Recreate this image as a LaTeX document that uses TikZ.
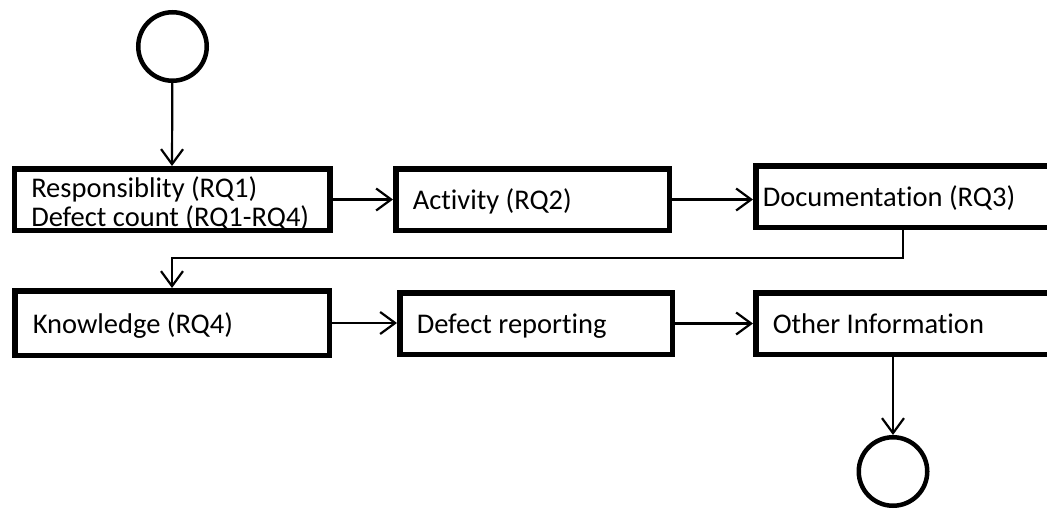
\documentclass[tikz,border=0pt]{standalone}
\usepackage{fontspec}
\setmainfont{Carlito}[Ligatures={NoCommon,NoRequired}]
\usetikzlibrary{arrows.meta}
\begin{document}
\begin{tikzpicture}[x=1pt,y=-1pt,
  stepbox/.style={draw, line width=5.5pt, rectangle, inner ysep=0pt,
    align=flush left, font=\fontsize{28.5}{29}\selectfont,
    text height=21pt, text depth=1pt},
  terminal/.style={draw, circle, line width=4.5pt, minimum size=68.5pt, inner sep=0pt},
  flow/.style={line width=2.2pt, -{Straight Barb[length=15pt,width=22pt]}}]
\useasboundingbox (0,0) rectangle (1047,511);
\clip (0,0) rectangle (1047,511);

% start and end markers
\node[terminal] (start) at (172.5,46.5) {};
\node[terminal] (end) at (893,471.5) {};

% first row of activities
\node[stepbox, minimum height=61.5pt, inner xsep=17pt, text width=281.5pt,
      text height=20pt, text depth=25pt] (b1) at (172,199.5)
  {Responsiblity (RQ1)\\Defect count (RQ1-RQ4)};
\node[stepbox, minimum height=61.5pt, inner xsep=17pt, text width=239.5pt] (b2) at (532.5,199.5)
  {Activity (RQ2)};
\node[stepbox, minimum height=61.5pt, inner xsep=7pt, text width=307.5pt] (b3) at (916.5,196.5)
  {Documentation (RQ3)};

% second row of activities
\node[stepbox, minimum height=64.5pt, inner xsep=18pt, text width=278.5pt] (b4) at (172,323)
  {Knowledge (RQ4)};
\node[stepbox, minimum height=61.5pt, inner xsep=17pt, text width=238.5pt] (b5) at (536,323.5)
  {Defect reporting};
\node[stepbox, minimum height=61.5pt, inner xsep=17pt, text width=287.5pt] (b6) at (916.5,323.5)
  {Other Information};

% bend points of the row-change connector
\coordinate (turnR) at (903,258);
\coordinate (turnL) at (172,258);

% connectors
\draw[flow] (start) -- (b1.north);
\draw[flow] (b1.east) -- (b2.west);
\draw[flow] (b2.east) -- (b2.east -| b3.west);
\draw[flow] (b3.south -| turnR) -- (turnR) -- (turnL) -- (b4.north);
\draw[flow] (b4.east) -- (b4.east -| b5.west);
\draw[flow] (b5.east) -- (b5.east -| b6.west);
\draw[flow] (b6.south -| end) -- (end.north);
\end{tikzpicture}
\end{document}
